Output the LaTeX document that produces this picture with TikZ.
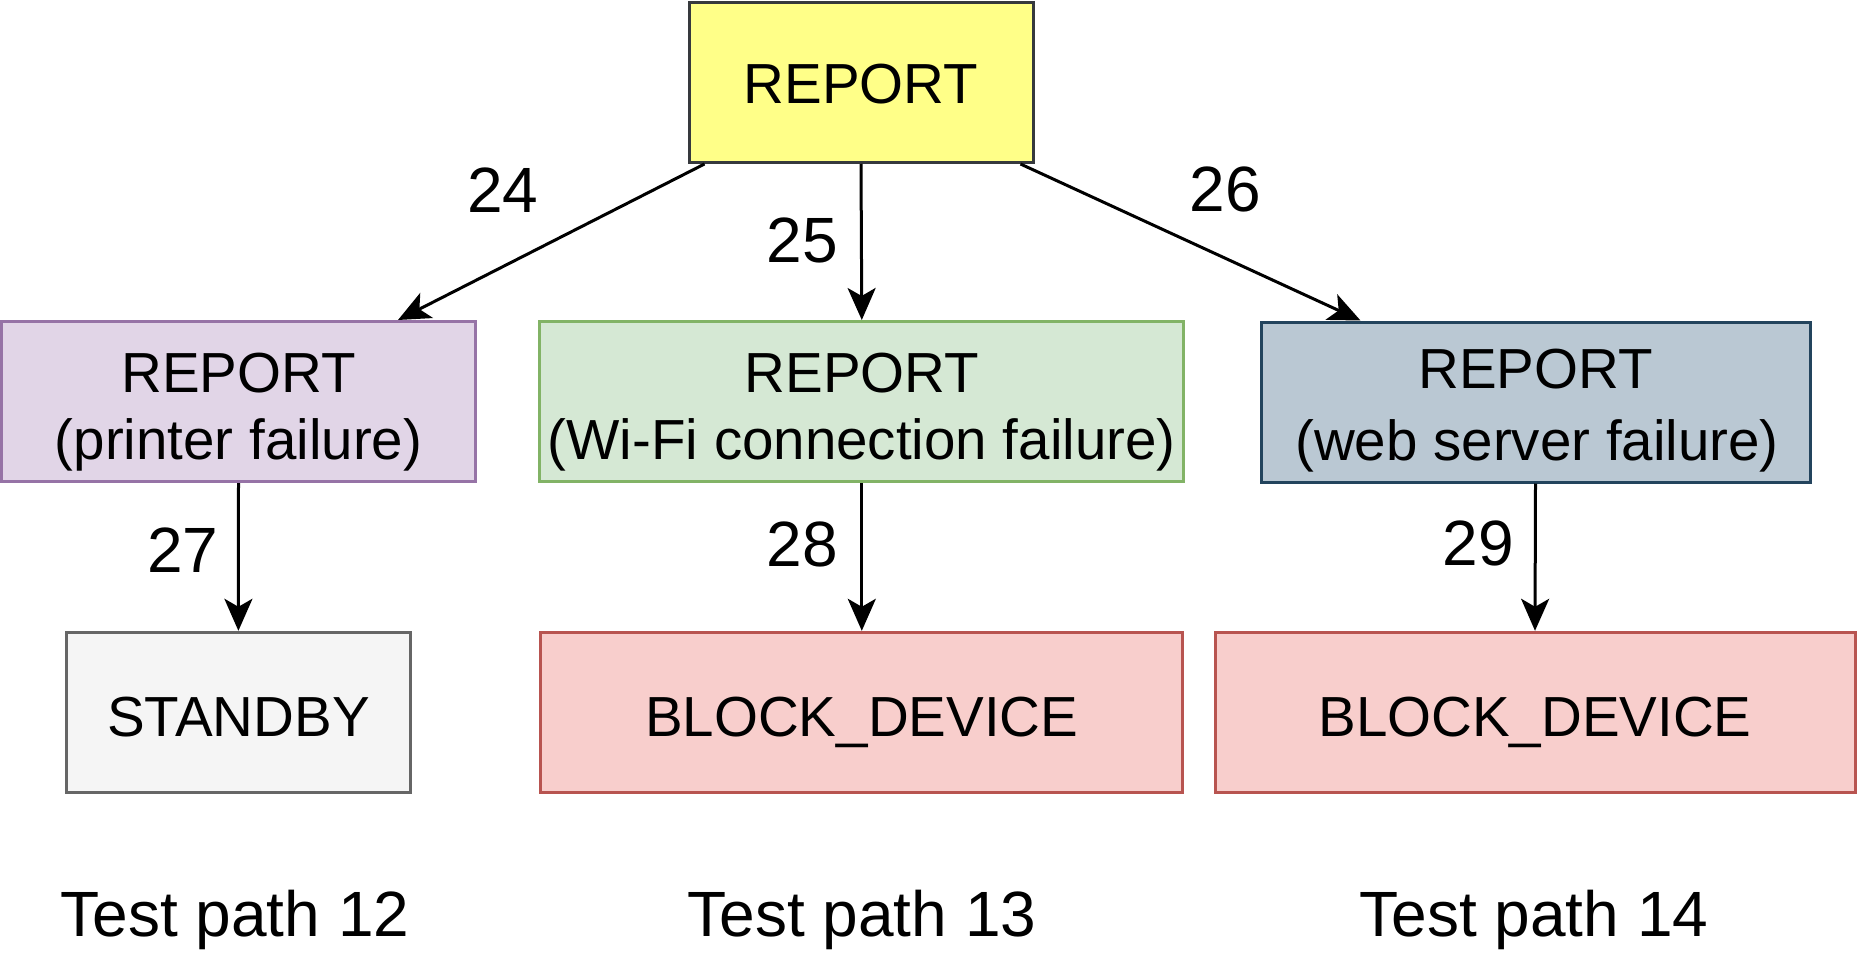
\documentclass[tikz,border=0pt]{standalone}
\usepackage{fontspec}
\setmainfont{Liberation Sans}
\usetikzlibrary{arrows.meta,calc}
\definecolor{yfill}{HTML}{FFFF88}\definecolor{ydraw}{HTML}{36393D}
\definecolor{pfill}{HTML}{E1D5E7}\definecolor{pdraw}{HTML}{9673A6}
\definecolor{gfill}{HTML}{D5E8D4}\definecolor{gdraw}{HTML}{82B366}
\definecolor{bfill}{HTML}{BAC8D3}\definecolor{bdraw}{HTML}{23445D}
\definecolor{sfill}{HTML}{F5F5F5}\definecolor{sdraw}{HTML}{666666}
\definecolor{rfill}{HTML}{F8CECC}\definecolor{rdraw}{HTML}{B85450}
\begin{document}
\begin{tikzpicture}[x=1pt,y=-1pt,
  box/.style={draw, line width=3pt, inner sep=0pt, minimum height=160pt},
  boxtxt/.style={inner sep=0pt, anchor=base, font=\fontsize{56.5}{66}\selectfont},
  lbl/.style={inner sep=0pt, anchor=base, font=\fontsize{64}{72}\selectfont},
  captxt/.style={inner sep=0pt, anchor=base, font=\fontsize{64}{72}\selectfont},
  arr/.style={line width=3pt, -{Stealth[length=32pt,width=28pt,inset=8pt]}}]
\useasboundingbox (0,0) rectangle (1860,960);
% boxes
\node[box, fill=yfill, draw=ydraw, minimum width=344pt] (top) at (861,82.5) {};
\node[box, fill=pfill, draw=pdraw, minimum width=474pt] (p) at (238.5,401.5) {};
\node[box, fill=gfill, draw=gdraw, minimum width=644pt] (g) at (861.8,401.5) {};
\node[box, fill=bfill, draw=bdraw, minimum width=549pt] (b) at (1535.5,402) {};
\node[box, fill=sfill, draw=sdraw, minimum width=344pt] (s) at (238.4,712.3) {};
\node[box, fill=rfill, draw=rdraw, minimum width=642pt] (r1) at (861.8,712.3) {};
\node[box, fill=rfill, draw=rdraw, minimum width=640pt] (r2) at (1535,712.3) {};
% box texts
\node[boxtxt] (ttop) at (861,104) {REPORT};
\node[boxtxt] (tp1) at (238.5,392.7) {REPORT};
\node[boxtxt] (tp2) at (238.5,459.3) {(printer failure)};
\node[boxtxt] (tg1) at (861.8,392.7) {REPORT};
\node[boxtxt] (tg2) at (861.8,459.3) {(Wi-Fi connection failure)};
\node[boxtxt] (tb1) at (1535.5,388.3) {REPORT};
\node[boxtxt] (tb2) at (1537,460) {(web server failure)};
\node[boxtxt] (ts) at (238.4,736.3) {STANDBY};
\node[boxtxt] (tr1) at (861.8,736.5) {BLOCK\_DEVICE};
\node[boxtxt] (tr2) at (1535,736.5) {BLOCK\_DEVICE};
% connectors
\coordinate (a1) at ($(top.south west)+(17,0)$);
\coordinate (a2) at ($(p.north east)+(-79,0)$);
\coordinate (c1) at ($(top.south east)+(-14,0)$);
\coordinate (c2) at ($(b.north west)+(101,0)$);
\draw[arr] (a1) -- (a2);
\draw[arr] (top.south) -- (g.north);
\draw[arr] (c1) -- (c2);
\draw[arr] (p.south) -- (s.north);
\draw[arr] (g.south) -- (r1.north);
\draw[arr] (b.south) -- (r2.north);
% labels
\node[lbl] (l24) at (502.7,212.3) {24};
\node[lbl] (l25) at (802,262.4) {25};
\node[lbl] (l26) at (1225,211.7) {26};
\node[lbl] (l27) at (182.7,572) {27};
\node[lbl] (l28) at (802,566) {28};
\node[lbl] (l29) at (1478,565) {29};
\node[captxt] (t12) at (235,936) {Test path 12};
\node[captxt] (t13) at (862,936) {Test path 13};
\node[captxt] (t14) at (1534,936) {Test path 14};
\end{tikzpicture}
\end{document}
